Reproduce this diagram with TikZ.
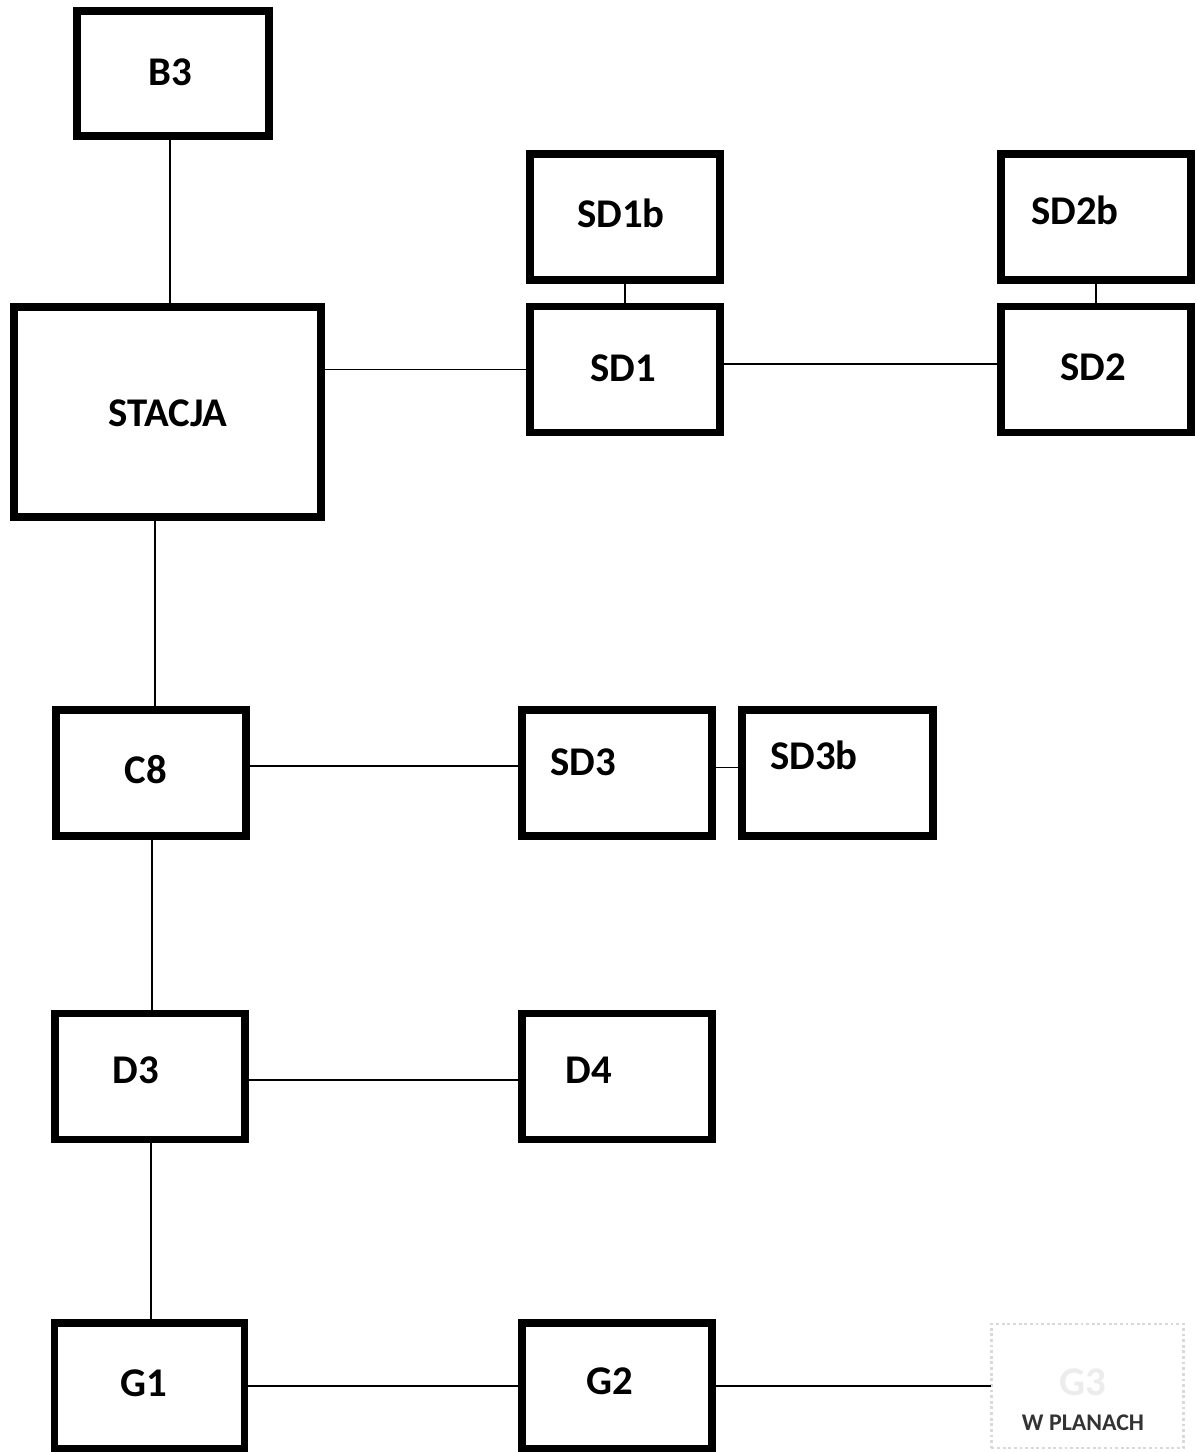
\documentclass[tikz,border=0pt]{standalone}
\usepackage{fontspec}
\setmainfont{Carlito}
\begin{document}
\begin{tikzpicture}[x=0.025cm,y=-0.025cm,
	box/.style={draw,line width=5.6pt,inner sep=0pt,outer sep=0pt,minimum width=4.75cm,minimum height=3.15cm},
	ghost/.style={draw=gray!30,line width=2pt,dotted,inner sep=0pt,outer sep=0pt,minimum width=4.8cm,minimum height=3.1cm},
	lbl/.style={font=\fontsize{29}{34}\selectfont\bfseries,inner sep=0pt},
	link/.style={line width=1.1pt}]
	\useasboundingbox (0,0) rectangle (1196,1452);
	% boxes
	\node[box,minimum width=4.8cm,minimum height=3.125cm] (b3) at (173,73.5) {};
	\node[box,minimum width=7.675cm,minimum height=5.25cm] (stacja) at (167.5,412) {};
	\node[box] (sd1b) at (625,217) {};
	\node[box] (sd1) at (625,369.5) {};
	\node[box] (sd2b) at (1096,217) {};
	\node[box] (sd2) at (1096,369.5) {};
	\node[box] (c8) at (151,773) {};
	\node[box] (sd3) at (617,773) {};
	\node[box,minimum width=4.775cm] (sd3b) at (837.5,773) {};
	\node[box] (d3) at (150,1076.5) {};
	\node[box] (d4) at (617,1076.5) {};
	\node[box] (g1) at (149.5,1386) {};
	\node[box] (g2) at (617,1386) {};
	\node[ghost] (g3) at (1087.5,1386) {};
	% labels
	\node[lbl] (b3t) at (170,72) {B3};
	\node[lbl] (stacjat) at (168,413) {STACJA};
	\node[lbl] (sd1bt) at (621,213) {SD1b};
	\node[lbl] (sd1t) at (623,368) {SD1};
	\node[lbl] (sd2bt) at (1075,210) {SD2b};
	\node[lbl] (sd2t) at (1093,367) {SD2};
	\node[lbl] (c8t) at (146,770) {C8};
	\node[lbl] (sd3t) at (583,762) {SD3};
	\node[lbl] (sd3bt) at (814,755) {SD3b};
	\node[lbl] (d3t) at (136,1070) {D3};
	\node[lbl] (d4t) at (589,1070) {D4};
	\node[lbl] (g1t) at (144,1383) {G1};
	\node[lbl] (g2t) at (610,1381) {G2};
	\node[lbl,text=gray!15] (g3t) at (1083,1382) {G3};
	\node[lbl,font=\fontsize{17}{20}\selectfont\bfseries,text=black!80] (planyt) at (1083,1423) {W PLANACH};
	% links
	\draw[link] (b3.south -| b3t) -- (stacja.north -| b3t);
	\draw[link] (sd1.west -| stacja.east) -- (sd1.west);
	\draw[link] (sd1b.south) -- (sd1.north);
	\draw[link] ([yshift=4pt]sd1.east) -- ([yshift=4pt]sd2.west);
	\draw[link] (sd2b.south) -- (sd2.north);
	\draw[link] (stacja.south -| 155,0) -- (c8.north -| 155,0);
	\draw[link] ([yshift=5pt]c8.east) -- ([yshift=5pt]sd3.west);
	\draw[link] ([yshift=4pt]sd3.east) -- ([yshift=4pt]sd3b.west);
	\draw[link] (c8.south -| 152,0) -- (d3.north -| 152,0);
	\draw[link] ([yshift=-2.5pt]d3.east) -- ([yshift=-2.5pt]d4.west);
	\draw[link] (d3.south -| 151,0) -- (g1.north -| 151,0);
	\draw[link] (g1.east) -- (g2.west);
	\draw[link] (g2.east) -- (g3.west);
\end{tikzpicture}
\end{document}
